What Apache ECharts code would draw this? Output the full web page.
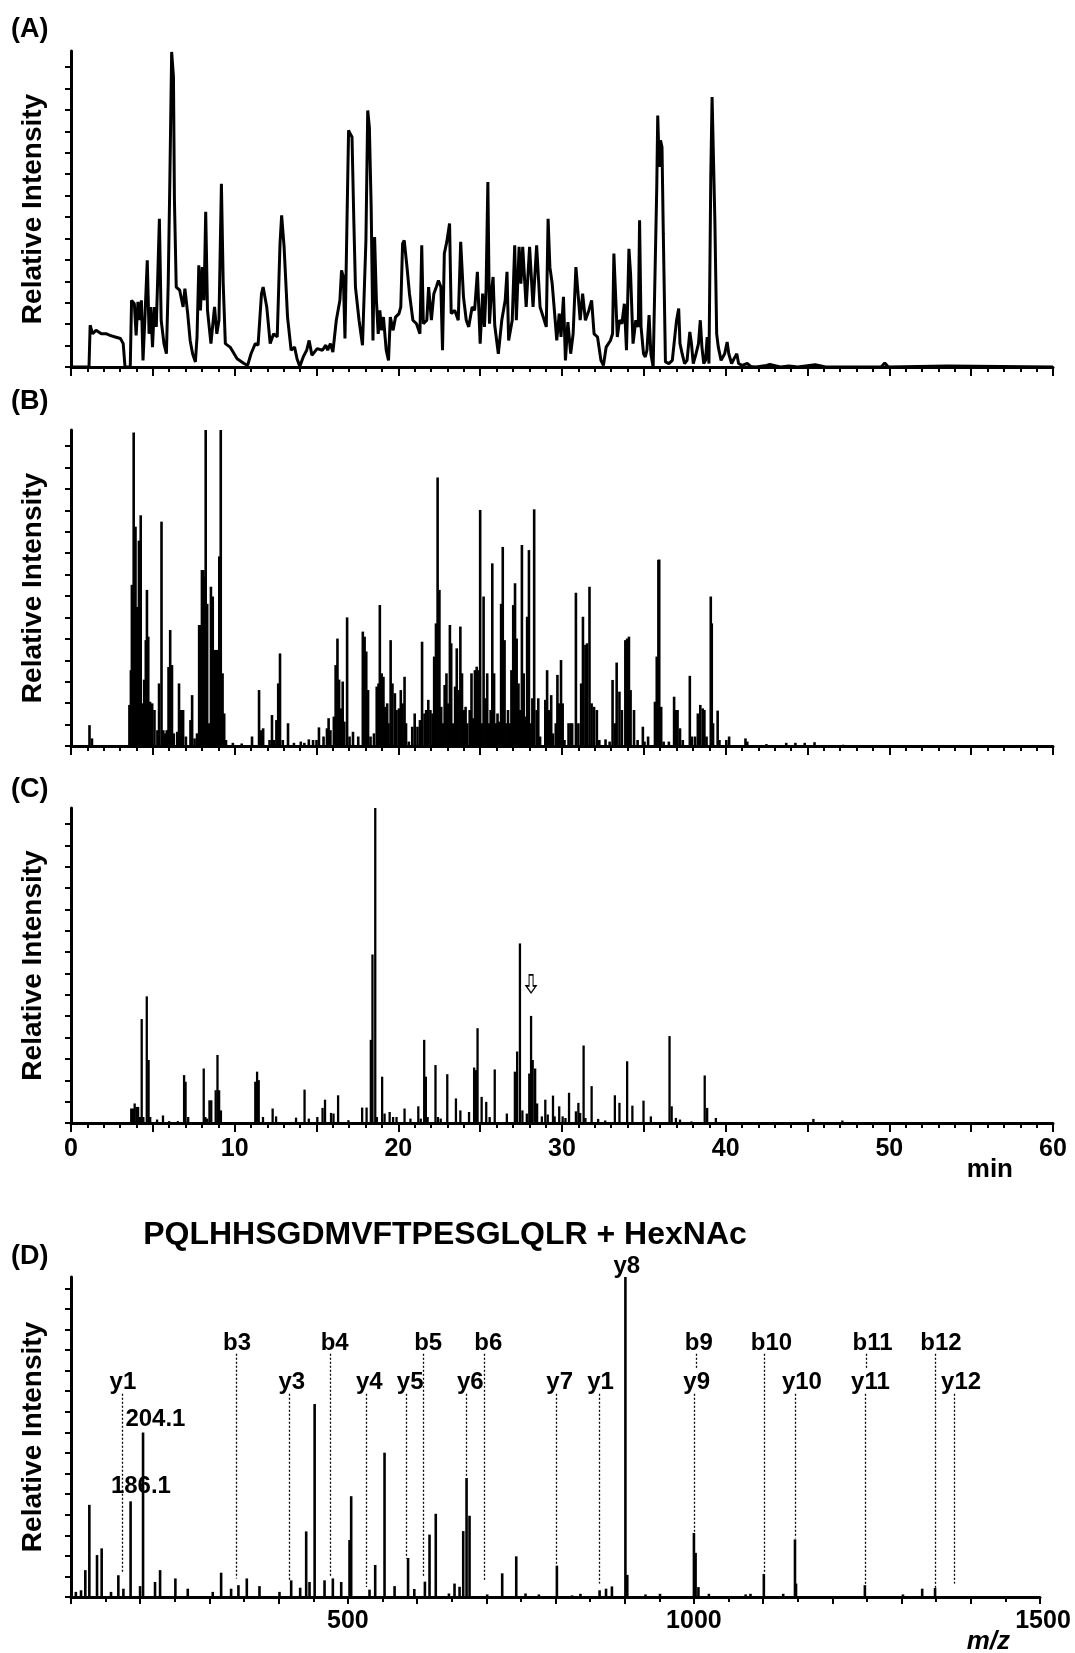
<!DOCTYPE html>
<html><head><meta charset="utf-8">
<script src="https://cdn.jsdelivr.net/npm/echarts@6/dist/echarts.min.js"></script>
<style>html,body{margin:0;padding:0;background:#fff}#c{width:1075px;height:1653px}</style>
</head><body><div id="c"></div><script>
// ---------------- data ----------------
const timeTickLabels = [0, 10, 20, 30, 40, 50, 60];
const mzTickLabels = [500, 1000, 1500];
const panelNames = ['(A)', '(B)', '(C)', '(D)'];
const peptideTitle = 'PQLHHSGDMVFTPESGLQLR + HexNAc';

// (A) chromatogram trace [min, relative intensity]
const chromA = [[0,0],[1.1,0],[1.17,13.2],[1.32,10.5],[1.53,11.6],[1.85,10.5],[2.17,10.5],[2.38,10.0],[2.70,9.5],[3.02,9.0],[3.19,7.4],[3.30,0],[3.62,0],[3.70,21.1],[3.87,20.0],[3.98,10.0],[4.09,20.6],[4.19,14.8],[4.30,21.1],[4.40,2.1],[4.51,14.8],[4.66,33.8],[4.77,10.5],[4.87,19.0],[4.98,6.3],[5.09,19.0],[5.21,12.7],[5.30,28.5],[5.40,46.9],[5.51,14.8],[5.68,7.4],[5.83,4.2],[5.94,26.4],[6.04,59.1],[6.15,99.7],[6.26,91.8],[6.32,52.7],[6.43,25.3],[6.64,24.3],[6.85,19.0],[6.96,24.8],[7.13,16.9],[7.28,8.4],[7.43,4.2],[7.60,1.6],[7.70,9.5],[7.81,32.2],[7.91,17.9],[8.02,31.6],[8.13,21.1],[8.23,49.1],[8.34,17.9],[8.55,7.4],[8.77,19.0],[8.91,10.5],[9.04,14.8],[9.19,58.0],[9.30,26.4],[9.43,7.4],[9.72,6.3],[10.15,2.6],[10.57,1.1],[10.79,0.5],[11.0,4.2],[11.26,7.4],[11.43,6.9],[11.64,23.2],[11.74,25.3],[11.96,19.0],[12.17,7.4],[12.38,10.5],[12.60,9.5],[12.77,39.0],[12.87,48.0],[13.02,38.0],[13.23,15.8],[13.45,5.3],[13.66,6.3],[13.81,2.6],[13.98,0.2],[14.19,3.2],[14.40,5.3],[14.55,8.4],[14.72,3.7],[15.04,5.8],[15.36,5.3],[15.57,6.9],[15.68,5.3],[15.85,7.4],[16.0,4.7],[16.21,14.8],[16.43,21.1],[16.53,30.6],[16.64,28.5],[16.74,9.0],[16.85,42.2],[16.96,74.9],[17.06,73.8],[17.17,72.8],[17.28,46.4],[17.38,25.3],[17.6,14.8],[17.81,6.9],[18.02,40.1],[18.13,81.2],[18.23,75.9],[18.34,50.6],[18.45,8.4],[18.55,41.1],[18.66,21.1],[18.77,10.5],[18.87,17.9],[18.98,11.6],[19.09,15.8],[19.26,5.3],[19.40,2.1],[19.51,15.8],[19.68,11.6],[19.83,15.8],[20.04,16.9],[20.15,19.0],[20.26,39.0],[20.36,40.1],[20.53,31.6],[20.68,23.2],[20.89,14.8],[21.11,13.7],[21.32,10.5],[21.43,38.5],[21.53,13.7],[21.74,14.8],[21.85,25.3],[22.02,14.8],[22.17,23.2],[22.32,25.3],[22.45,27.4],[22.60,25.3],[22.70,5.3],[22.81,35.9],[22.96,39.6],[23.13,45.4],[23.23,16.9],[23.45,17.9],[23.66,14.8],[23.81,39.6],[23.98,22.2],[24.15,14.8],[24.30,12.7],[24.51,19.0],[24.66,17.9],[24.83,30.1],[25.0,7.4],[25.15,23.2],[25.26,12.7],[25.36,24.3],[25.47,58.5],[25.57,13.7],[25.68,23.2],[25.79,28.5],[25.89,13.2],[26.11,4.2],[26.32,14.8],[26.53,21.1],[26.64,30.1],[26.74,8.4],[26.96,14.8],[27.11,38.5],[27.21,14.8],[27.38,38.0],[27.49,26.4],[27.60,38.0],[27.81,19.0],[28.02,38.0],[28.23,19.0],[28.45,38.5],[28.66,19.0],[29.04,12.7],[29.15,46.9],[29.26,31.6],[29.40,26.4],[29.55,16.9],[29.68,8.4],[29.83,16.9],[29.94,9.5],[30.09,22.2],[30.21,2.1],[30.36,14.2],[30.53,4.2],[30.68,10.5],[30.85,31.6],[30.96,31.6],[31.11,14.8],[31.26,23.2],[31.43,14.8],[31.64,17.9],[31.81,21.1],[31.96,10.5],[32.17,9.5],[32.38,2.1],[32.53,0.5],[32.70,6.3],[32.96,8.4],[33.09,10.5],[33.17,35.9],[33.28,35.9],[33.38,9.5],[33.51,14.8],[33.66,13.7],[33.81,20.0],[33.94,5.3],[34.09,37.4],[34.19,29.5],[34.34,7.4],[34.51,14.8],[34.66,12.7],[34.74,46.4],[34.83,12.7],[34.98,4.2],[35.09,3.2],[35.19,5.3],[35.32,16.4],[35.43,4.2],[35.57,0],[35.68,0.5],[35.79,57.0],[35.85,79.6],[35.94,63.3],[36.02,71.7],[36.11,69.6],[36.19,42.2],[36.32,1.6],[36.53,1.1],[36.74,2.1],[36.91,10.5],[37.0,14.8],[37.13,18.5],[37.21,7.4],[37.34,4.2],[37.49,1.1],[37.64,2.1],[37.81,11.1],[37.91,7.4],[38.02,1.1],[38.19,4.2],[38.34,7.4],[38.45,14.8],[38.55,6.3],[38.66,1.1],[38.77,2.1],[38.87,9.5],[38.98,1.1],[39.09,60.1],[39.17,85.4],[39.26,85.4],[39.34,46.4],[39.45,10.5],[39.55,6.3],[39.72,2.1],[39.94,4.2],[40.09,7.9],[40.19,4.2],[40.36,1.1],[40.57,3.2],[40.68,4.2],[40.79,1.1],[41.0,0.5],[41.32,1.1],[41.53,0.2],[41.85,0],[42.49,0.5],[42.70,0.8],[43.34,0],[43.87,0.3],[44.40,0],[45.47,0.7],[46.11,0],[49.5,0],[49.72,1.3],[49.94,0],[53.55,0.3],[60,0]];

// (B) peaks [min, relative intensity]
const peaksB = [[1.13,6.6],[1.28,2.4],[3.57,13.0],[3.66,24],[3.72,51],[3.83,99.2],[3.94,69.4],[4.04,44],[4.15,65],[4.26,73],[4.36,13.5],[4.47,21],[4.57,33.5],[4.64,49.4],[4.72,34.6],[4.83,14],[4.96,13.5],[5.1,11.4],[5.28,5],[5.38,19.8],[5.53,71],[5.64,5],[5.74,4],[5.85,5],[5.96,25],[6.06,36.7],[6.17,25.6],[6.28,4],[6.49,4.5],[6.6,19.8],[6.74,11.4],[6.85,11.4],[7.02,3],[7.3,8.2],[7.4,16.1],[7.55,2.4],[7.7,4],[7.83,38.3],[7.91,38.3],[8.0,55.7],[8.09,55.7],[8.17,53.6],[8.23,100],[8.32,45],[8.43,7.2],[8.55,50.4],[8.66,47.3],[8.77,30.4],[8.87,30.4],[8.98,30.4],[9.06,60],[9.15,100],[9.26,23],[9.36,10.3],[9.47,1.9],[9.89,1.0],[10.43,0.8],[11.06,3],[11.49,17.7],[11.6,5],[11.74,5.6],[12.13,1.9],[12.28,9.8],[12.4,1.9],[12.55,8.2],[12.66,19.8],[12.77,29.3],[12.94,1.9],[13.26,7.2],[13.62,1],[14.04,1.4],[14.26,1],[14.53,2.1],[14.79,1.9],[15.0,1.9],[15.15,5.9],[15.43,3],[15.64,5.6],[15.74,8.8],[15.85,5],[16.06,9.3],[16.17,25.6],[16.28,34],[16.38,21],[16.49,11.9],[16.6,20.4],[16.7,7.7],[16.87,40.7],[17.02,3],[17.23,4.5],[17.55,3],[17.83,36.2],[17.94,34.6],[18.04,29.9],[18.15,17.7],[18.3,3],[18.51,4],[18.68,18.8],[18.79,19.8],[18.87,44.6],[18.98,23],[19.09,21.9],[19.19,12.4],[19.32,13.5],[19.4,7.2],[19.53,33.5],[19.64,19.8],[19.79,16.7],[19.89,11.4],[20.04,11.9],[20.15,17.7],[20.26,13.5],[20.38,21.9],[20.47,7.2],[20.64,1.4],[20.85,6.1],[21.0,10.3],[21.17,6.1],[21.32,8.2],[21.45,33],[21.6,10.3],[21.7,11.4],[21.83,14.6],[21.96,11.4],[22.09,10.3],[22.19,28.3],[22.3,38.8],[22.4,85],[22.51,49.4],[22.62,12.4],[22.72,7.2],[22.83,19.3],[22.94,23],[23.04,13.5],[23.15,38.3],[23.23,32.5],[23.36,7.2],[23.47,18.8],[23.57,30.9],[23.68,17.7],[23.79,37.8],[23.89,23],[24.0,11.4],[24.11,12.4],[24.21,7.2],[24.36,11.4],[24.47,23],[24.57,8.8],[24.68,24],[24.79,25.1],[24.89,24],[25.0,74.7],[25.11,7.2],[25.21,47.3],[25.32,15.1],[25.43,23],[25.53,7.2],[25.64,11.4],[25.74,57.8],[25.85,23],[25.96,7.2],[26.06,10.3],[26.17,7.7],[26.28,45],[26.38,63],[26.49,33.5],[26.6,7.2],[26.7,11.4],[26.81,7.2],[26.91,24],[27.02,44.6],[27.13,51.5],[27.23,34],[27.34,19.8],[27.45,11.4],[27.55,63.6],[27.66,23],[27.77,9.3],[27.87,40.9],[27.98,62],[28.09,7.2],[28.19,15.1],[28.3,74.9],[28.45,11.4],[28.55,15.1],[28.66,3],[28.98,14.6],[29.09,24],[29.19,11.4],[29.34,16.1],[29.45,4],[29.62,7.2],[29.72,22.5],[29.83,13.5],[29.94,27.2],[30.04,13.5],[30.15,1.9],[30.4,7.2],[30.53,7.2],[30.62,7.2],[30.85,48.5],[31.0,7.2],[31.17,19.8],[31.28,40.9],[31.43,32],[31.53,32.5],[31.68,50.4],[31.81,13.5],[31.96,12.4],[32.13,11.4],[32.28,1.9],[32.66,2.1],[32.91,1.4],[33.09,20.9],[33.23,7.2],[33.34,26.4],[33.51,17.2],[33.66,11.4],[33.87,33.5],[33.98,34],[34.09,34.6],[34.19,17.7],[34.4,11.4],[34.62,1.9],[34.94,6.1],[35.04,1.4],[35.26,3],[35.68,14],[35.79,28.3],[35.89,58.9],[35.94,59],[36.06,12.4],[36.21,1.4],[36.53,1.4],[36.85,15.6],[36.96,11.4],[37.06,11.4],[37.21,5.6],[37.38,1.9],[37.81,22.2],[37.94,3],[38.13,3],[38.3,10.3],[38.45,13],[38.6,11.9],[38.7,11.4],[38.83,3],[39.09,47.3],[39.15,38.8],[39.23,7.2],[39.51,11.2],[39.62,1.9],[40.04,1.9],[40.21,3],[41.21,2.4],[41.32,1.4],[42.49,0.6],[43.7,1.0],[44.26,1.0],[44.83,1.0],[45.43,1.2],[47.17,0.4]];

// (C) peaks [min, relative intensity]
const peaksC = [[3.68,4.6],[3.79,4.6],[3.89,6.2],[4.0,5.1],[4.1,5.1],[4.21,1.9],[4.32,33],[4.42,1.9],[4.63,40.2],[4.74,20],[4.84,1.9],[5.26,1.1],[5.62,2.4],[6.0,0.6],[6.53,0.6],[6.91,15.2],[7.0,13.1],[7.16,1.9],[8.11,17.3],[8.21,1.9],[8.32,1.4],[8.46,7.2],[8.57,7.2],[8.84,10.4],[8.95,21.6],[9.05,10.4],[9.16,4],[11.26,13.1],[11.37,16.3],[11.47,13.6],[11.73,1.9],[12.32,4.6],[12.53,2.1],[13.75,1.7],[14.27,10.6],[14.53,1.4],[15.05,1.9],[15.37,4.8],[15.52,7.4],[15.89,3.2],[16.04,3],[16.32,8.8],[16.95,0.9],[17.79,4.9],[18.06,4.9],[18.32,26.4],[18.42,53.5],[18.59,100],[18.69,1.9],[19.01,14.7],[19.16,3],[19.47,3.5],[19.68,1.9],[19.89,1.9],[20.38,4.6],[20.74,1.4],[21.22,5.3],[21.37,1.4],[21.58,26.4],[21.68,14.7],[21.79,1.9],[22.27,18.4],[22.42,1.9],[22.59,1.4],[22.99,15.5],[23.52,7.8],[23.79,4],[24.32,3.5],[24.63,17.6],[24.74,16.8],[24.84,30.1],[25.09,8.3],[25.37,6.7],[25.58,1.9],[25.89,17],[26.63,3],[27.12,16.3],[27.26,22.7],[27.43,57],[27.58,4],[27.85,3],[28.0,15.7],[28.11,34],[28.21,20],[28.36,17.3],[28.48,6.2],[28.77,2.1],[28.98,7.4],[29.13,2.7],[29.45,8.7],[29.55,2.1],[29.83,5.3],[30.04,2.1],[30.21,1.6],[30.43,9.6],[30.85,3.7],[31.0,6.4],[31.11,3.2],[31.32,24.6],[31.43,1.6],[31.81,11.7],[32.21,1.3],[32.64,0.8],[33.23,8.8],[33.51,6.4],[33.98,19.6],[34.3,5.5],[34.98,7.1],[35.43,2.1],[36.57,27.6],[36.7,5.3],[36.96,1.6],[37.21,1.1],[37.91,0.5],[38.72,15.1],[38.87,4.8],[39.4,1.6],[45.36,1.3],[47.13,0.8]];
const arrowPeakC = [28.11, 34];

// (D) MS/MS spectrum [m/z, relative intensity]
const spectrumD = [[107,1.6],[114.5,2.1],[120.7,8.4],[126.5,28.8],[137.6,13.1],[144.3,15.2],[157.8,1.6],[168.4,6.8],[175.7,2.6],[186.1,29.9],[199.8,3.4],[204.1,51.4],[221.4,4.7],[228.7,8.4],[250.8,5.8],[268.7,2.6],[304.8,1.6],[316.9,7.6],[331.3,2.6],[341.9,3.7],[354,5.8],[372.3,3.4],[401.2,1.6],[418.1,5.2],[431.1,2.9],[439.8,20.5],[444.6,4.7],[452,60.3],[466.3,5.2],[478.3,5.8],[490.4,4.7],[502.4,17.8],[504.8,31.5],[531.3,2.3],[539.5,10],[553,45.1],[567.5,3.4],[587,12.2],[596,2.5],[611.3,4.8],[618,19.5],[627,26],[646,1.1],[654.1,4.2],[661.4,3.2],[666.7,20.6],[671.5,37.2],[675.8,25.4],[701.3,0.8],[723,7.4],[743.3,12.7],[756.7,1.1],[776,0.8],[802,9.8],[824,0.5],[836,1.0],[863.7,2.1],[873,2.6],[881.5,3.3],[901,100],[903.7,6.9],[930,0.8],[951,1],[1000,20],[1002.4,13.8],[1006.5,3.1],[1021.6,1],[1074.7,0.8],[1081.7,1],[1101,7.2],[1129,1],[1146,18],[1147.5,4.2],[1247,3.7],[1302,0.8],[1329.8,2.6],[1348.4,2.8]];

// fragment annotations (y8 sits just above the base peak at the top of the axis)
const fragLabelText = ['y1','204.1','186.1','b3','y3','b4','y4','y5','b5','y6','b6','y7','y1','y8','b9','y9','b10','y10','b11','y11','b12','y12'];
const fragLabelMz   = [175, 222, 201, 340, 419, 481, 531, 590, 616, 677, 703, 806, 865, 903, 1007, 1004, 1112, 1156, 1258, 1255, 1357, 1386];
const fragLabelInt  = [67, 55.4, 34.7, 79.3, 67, 79.3, 67, 67, 79.3, 67, 79.3, 67, 67, 100, 79.3, 67, 79.3, 67, 79.3, 67, 79.3, 67];
const fragLineMz     = [174, 338.5, 415, 474, 527, 585, 609.6, 670.4, 696.5, 801, 862.7, 1003, 1000.5, 1101.7, 1146, 1249.6, 1247, 1348.4, 1376];
const fragLineTop    = [63.5, 76, 63.5, 76, 63.5, 63.5, 76, 63.5, 76, 63.5, 63.5, 76, 63.5, 76, 63.5, 76, 63.5, 76, 63.5];
const fragLineBottom = [7.3, 5.8, 5.2, 6.3, 3.1, 12.0, 6.3, 37.7, 5.2, 10.4, 4.2, 71, 20.4, 7.5, 18.3, 71, 3.7, 2.8, 4.2];

// ---------------- chart ----------------
const FONT = '"Liberation Sans", Arial, Helvetica, sans-serif';
const yTicksABC = Array.from({length: 15}, (_, i) => i * 100 / 14.75);
const yTicksD = Array.from({length: 16}, (_, i) => i * 100 / 15.55);

const chart = echarts.init(document.getElementById('c'), null, {renderer: 'canvas', width: 1075, height: 1653});

const boldText = (size, extra) => Object.assign({color: '#000', fontSize: size, fontWeight: 'bold', fontFamily: FONT}, extra || {});

function timeXAxis(gridIndex, showLabels, name) {
  return {
    type: 'value', gridIndex: gridIndex, min: 0, max: 60, interval: 5,
    axisLine: {show: true, onZero: false, lineStyle: {color: '#000', width: 3}},
    axisTick: {show: true, length: 9, lineStyle: {color: '#000', width: 2}},
    minorTick: {show: true, splitNumber: 5, length: 5, lineStyle: {color: '#000', width: 2}},
    splitLine: {show: false}, minorSplitLine: {show: false},
    axisLabel: showLabels ? Object.assign({show: true, customValues: timeTickLabels, margin: 14, formatter: v => String(v)}, boldText(25)) : {show: false},
    name: name || '', nameLocation: 'end', nameGap: 0,
    nameTextStyle: boldText(26, {align: 'right', verticalAlign: 'top', padding: [34, 40, 0, 0]})
  };
}
function intensityYAxis(gridIndex, ticks) {
  return {
    type: 'value', gridIndex: gridIndex, min: 0, max: 100,
    axisLine: {show: true, onZero: false, lineStyle: {color: '#000', width: 3}},
    axisTick: {show: true, customValues: ticks, length: 6, lineStyle: {color: '#000', width: 2}},
    axisLabel: {show: false}, splitLine: {show: false},
    name: 'Relative Intensity', nameLocation: 'middle', nameGap: 24,
    nameTextStyle: boldText(28)
  };
}

const option = {
  animation: false,
  backgroundColor: '#fff',
  grid: [
    {left: 71, top: 51, width: 982, height: 316, containLabel: false, outerBoundsMode: 'none'},
    {left: 71, top: 430, width: 982, height: 316, containLabel: false, outerBoundsMode: 'none'},
    {left: 71, top: 808, width: 982, height: 315, containLabel: false, outerBoundsMode: 'none'},
    {left: 71, top: 1277, width: 969, height: 320, containLabel: false, outerBoundsMode: 'none'}
  ],
  xAxis: [
    timeXAxis(0, false),
    timeXAxis(1, false),
    timeXAxis(2, true, 'min'),
    {
      type: 'value', gridIndex: 3, min: 100, max: 1500, interval: 100,
      axisLine: {show: true, onZero: false, lineStyle: {color: '#000', width: 3}},
      axisTick: {show: true, length: 7, lineStyle: {color: '#000', width: 2}},
      minorTick: {show: true, splitNumber: 2, length: 5, lineStyle: {color: '#000', width: 2}},
      splitLine: {show: false}, minorSplitLine: {show: false},
      axisLabel: Object.assign({show: true, customValues: mzTickLabels, margin: 12, hideOverlap: false,
        formatter: v => (v === 1500 ? '{up|' + v + '}' : String(v)),
        rich: {up: boldText(25, {padding: [0, 0, 0, 6]})}}, boldText(25)),
      name: 'm/z', nameLocation: 'end', nameGap: 0,
      nameTextStyle: boldText(26, {fontStyle: 'italic', align: 'right', verticalAlign: 'top', padding: [32, 30, 0, 0]})
    }
  ],
  yAxis: [intensityYAxis(0, yTicksABC), intensityYAxis(1, yTicksABC), intensityYAxis(2, yTicksABC), intensityYAxis(3, yTicksD)],
  series: [
    {type: 'line', xAxisIndex: 0, yAxisIndex: 0, data: chromA, showSymbol: false, symbol: 'none',
     lineStyle: {color: '#000', width: 3}, silent: true},
    {type: 'bar', xAxisIndex: 1, yAxisIndex: 1, data: peaksB, barWidth: 2.6, itemStyle: {color: '#000'}, silent: true},
    {type: 'bar', xAxisIndex: 2, yAxisIndex: 2, data: peaksC, barWidth: 2.3, itemStyle: {color: '#000'}, silent: true,
     markPoint: {
       silent: true,
       symbol: 'path://M3,0 L7,0 L7,11 L10,11 L5,18 L0,11 L3,11 Z',
       symbolSize: [10, 18], symbolOffset: [0, -32],
       itemStyle: {color: '#fff', borderColor: '#000', borderWidth: 1.3},
       label: {show: false},
       data: [{coord: arrowPeakC}]
     }},
    {type: 'bar', xAxisIndex: 3, yAxisIndex: 3, data: spectrumD, barWidth: 2.6, itemStyle: {color: '#000'}, silent: true,
     markLine: {
       silent: true, symbol: ['none', 'none'],
       lineStyle: {color: '#000', width: 1.3, type: [2, 2]},
       label: {show: false},
       data: fragLineMz.map((m, i) => [{coord: [m, fragLineTop[i]]}, {coord: [m, fragLineBottom[i]]}])
     },
     markPoint: {
       silent: true, symbol: 'circle', symbolSize: 1,
       itemStyle: {color: 'rgba(0,0,0,0)'},
       label: Object.assign({show: true, position: 'inside', formatter: '{b}'}, boldText(24)),
       data: fragLabelText.map((t, i) => {
         const item = {name: t, coord: [fragLabelMz[i], fragLabelInt[i]]};
         if (t === 'y8') item.label = {offset: [0, -11]};
         return item;
       })
     }}
  ],
  graphic: [
    {type: 'text', x: 11, y: 30, style: {text: panelNames[0], font: 'bold 27px ' + FONT, fill: '#000', align: 'left', verticalAlign: 'middle'}},
    {type: 'text', x: 11, y: 402, style: {text: panelNames[1], font: 'bold 27px ' + FONT, fill: '#000', align: 'left', verticalAlign: 'middle'}},
    {type: 'text', x: 11, y: 790, style: {text: panelNames[2], font: 'bold 27px ' + FONT, fill: '#000', align: 'left', verticalAlign: 'middle'}},
    {type: 'text', x: 11, y: 1257, style: {text: panelNames[3], font: 'bold 27px ' + FONT, fill: '#000', align: 'left', verticalAlign: 'middle'}},
    {type: 'text', x: 445, y: 1235, style: {text: peptideTitle, font: 'bold 32px ' + FONT, fill: '#000', align: 'center', verticalAlign: 'middle'}}
  ]
};
chart.setOption(option);
</script></body></html>
